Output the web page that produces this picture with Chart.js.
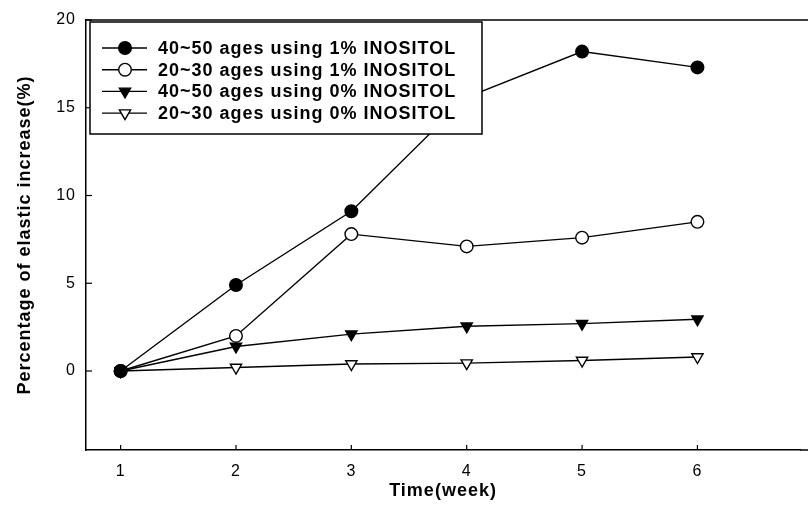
<!DOCTYPE html>
<html>
<head>
<meta charset="utf-8">
<script src="https://cdn.jsdelivr.net/npm/chart.js@4/dist/chart.umd.min.js"></script>
<style>
  html, body { margin: 0; padding: 0; background: #fff; }
  #wrap { width: 808px; height: 524px; position: relative; }
</style>
</head>
<body>
<div id="wrap"><canvas id="chart1"></canvas></div>
<script>
// weeks and the four series
const weeks = [1, 2, 3, 4, 5, 6];
const old1 = [0, 4.9, 9.1, 15.6, 18.2, 17.3];     // 40~50 ages, 1%
const young1 = [0, 2.0, 7.8, 7.1, 7.6, 8.5];     // 20~30 ages, 1%
const old0 = [0, 1.4, 2.1, 2.55, 2.7, 2.95];      // 40~50 ages, 0%
const young0 = [0, 0.2, 0.4, 0.45, 0.6, 0.8];     // 20~30 ages, 0%
const names = [
    '40~50 ages using 1% INOSITOL',
    '20~30 ages using 1% INOSITOL',
    '40~50 ages using 0% INOSITOL',
    '20~30 ages using 0% INOSITOL'
];
const xTicks = [1, 2, 3, 4, 5, 6];
const yTicks = [0, 5, 10, 15, 20];

const pts = arr => arr.map((v, i) => ({ x: weeks[i], y: v }));

function series(label, values, style, fill) {
    return {
        label: label,
        data: pts(values),
        borderColor: '#000',
        borderWidth: 1.4,
        backgroundColor: fill,
        pointBackgroundColor: fill,
        pointBorderColor: '#000',
        pointBorderWidth: 1.4,
        pointStyle: style,
        pointRadius: style === 'circle' ? 6.3 : 6.5,
        pointRotation: style === 'triangle' ? 180 : 0,
        tension: 0,
        fill: false
    };
}

// spacing like the scanned figure
const spacing = {
    id: 'spacing',
    beforeUpdate(chart) { chart.ctx.letterSpacing = '1px'; },
    beforeDraw(chart) { chart.ctx.letterSpacing = '1px'; }
};

// top frame line, inward ticks and the boxed legend
const frame = {
    id: 'frame',
    afterDatasetsDraw(chart) {
        const ctx = chart.ctx;
        const a = chart.chartArea;
        const xs = chart.scales.x, ys = chart.scales.y;
        ctx.save();
        ctx.strokeStyle = '#000';
        ctx.lineWidth = 1.5;
        ctx.beginPath();
        ctx.moveTo(a.left, a.top);
        ctx.lineTo(chart.width, a.top);
        ctx.moveTo(a.right, a.bottom);
        ctx.lineTo(chart.width, a.bottom);
        ctx.stroke();
        ctx.lineWidth = 1.2;
        xTicks.forEach(v => {
            const px = xs.getPixelForValue(v);
            ctx.beginPath();
            ctx.moveTo(px, a.bottom);
            ctx.lineTo(px, a.bottom - 5);
            ctx.stroke();
        });
        yTicks.forEach(v => {
            const py = ys.getPixelForValue(v);
            ctx.beginPath();
            ctx.moveTo(a.left, py);
            ctx.lineTo(a.left + 6, py);
            ctx.stroke();
        });

        // legend box
        const bx = a.left + 4, by = a.top + 2, bw = 392, bh = 112;
        ctx.fillStyle = '#fff';
        ctx.fillRect(bx, by, bw, bh);
        ctx.lineWidth = 1.5;
        ctx.strokeRect(bx, by, bw, bh);
        ctx.font = 'bold 18px "Liberation Sans", Arial, sans-serif';
        ctx.textBaseline = 'middle';
        ctx.textAlign = 'left';
        chart.data.datasets.forEach((ds, i) => {
            const y = by + 26 + i * 21.7;
            ctx.strokeStyle = '#000';
            ctx.lineWidth = 1.4;
            ctx.beginPath();
            ctx.moveTo(bx + 12, y);
            ctx.lineTo(bx + 57, y);
            ctx.stroke();
            ctx.fillStyle = ds.pointBackgroundColor;
            Chart.helpers.drawPoint(ctx, {
                pointStyle: ds.pointStyle,
                radius: ds.pointRadius,
                rotation: ds.pointRotation,
                borderWidth: 1.4
            }, bx + 35, y);
            ctx.fillStyle = '#000';
            ctx.fillText(ds.label, bx + 68, y + 1);
        });
        ctx.restore();
    }
};

const data = {
    datasets: [
        series(names[0], old1, 'circle', '#000'),
        series(names[1], young1, 'circle', '#fff'),
        series(names[2], old0, 'triangle', '#000'),
        series(names[3], young0, 'triangle', '#fff')
    ]
};

const config = {
    type: 'line',
    data: data,
    plugins: [spacing, frame],
    options: {
        responsive: true,
        maintainAspectRatio: false,
        animation: false,
        layout: { padding: { top: 20, right: 0, left: 0, bottom: 0 } },
        scales: {
            x: {
                type: 'linear',
                min: 0.7,
                max: 6.89,
                afterBuildTicks: s => { s.ticks = xTicks.map(v => ({ value: v })); },
                afterFit: s => { s.height = 74; },
                grid: { display: false, drawTicks: false },
                border: { display: true, color: '#000', width: 1.5 },
                ticks: {
                    color: '#000',
                    padding: 12,
                    font: { family: '"Liberation Sans", Arial, sans-serif', size: 16 }
                },
                title: {
                    display: true,
                    text: 'Time(week)',
                    color: '#000',
                    padding: { top: 0, bottom: 22 },
                    font: { family: '"Liberation Sans", Arial, sans-serif', size: 18, weight: 'bold' }
                }
            },
            y: {
                min: -4.5,
                max: 20,
                afterBuildTicks: s => { s.ticks = yTicks.map(v => ({ value: v })); },
                afterFit: s => { s.width = 86; },
                grid: { display: false, drawTicks: false },
                border: { display: true, color: '#000', width: 1.5 },
                ticks: {
                    color: '#000',
                    padding: 10,
                    font: { family: '"Liberation Sans", Arial, sans-serif', size: 16 }
                },
                title: {
                    display: true,
                    text: 'Percentage of elastic increase(%)',
                    color: '#000',
                    padding: { top: 14, bottom: 0 },
                    font: { family: '"Liberation Sans", Arial, sans-serif', size: 18, weight: 'bold' }
                }
            }
        },
        plugins: {
            legend: { display: false },
            tooltip: { enabled: false }
        }
    }
};

new Chart(document.getElementById('chart1'), config);
</script>
</body>
</html>
